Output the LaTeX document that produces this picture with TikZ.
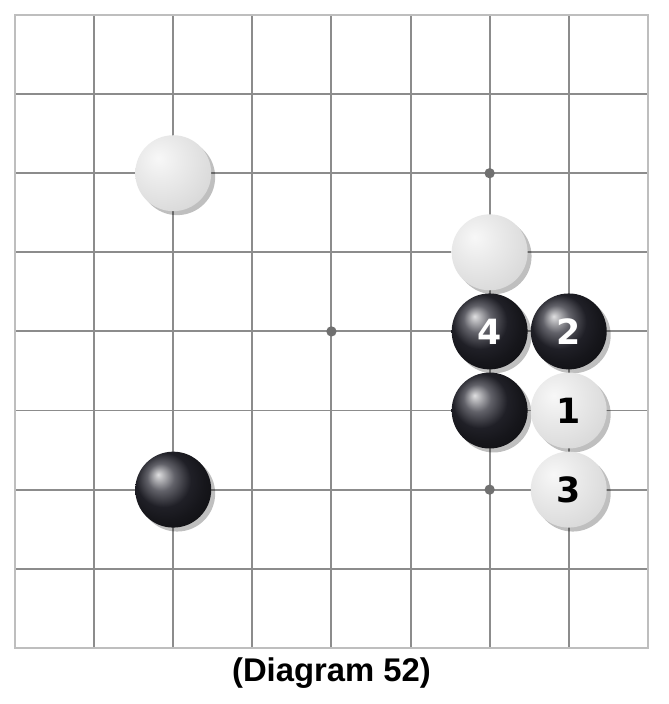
\documentclass[tikz,border=0pt]{standalone}
\usepackage{fontspec}
\setmainfont{Liberation Sans}
\newfontfamily\stonefont{DejaVu Sans}
\usetikzlibrary{shadows, positioning}

\definecolor{gridgray}{RGB}{140,140,140}
\definecolor{edgegray}{RGB}{190,190,190}
\definecolor{stoneblack}{RGB}{45,45,55}

\pgfdeclareradialshading{whiteball}{\pgfpoint{-10bp}{10bp}}{%
  color(0bp)=(white!97!black); color(14bp)=(white!92!black); color(38bp)=(white!84!black);
  color(58bp)=(white!72!black); color(100bp)=(white!72!black)}

\tikzset{
  stone/.style={circle, inner sep=0pt, minimum size=0.96cm,
    font=\stonefont\bfseries\fontsize{12.5}{13}\selectfont,
    drop shadow={shadow xshift=0.05cm, shadow yshift=-0.05cm, opacity=0.25, fill=black}},
  blackstone/.style={stone, shading=ball, ball color=stoneblack, text=white},
  whitestone/.style={stone, shading=whiteball, text=black},
  hoshi/.style={circle, fill=gridgray!80!black, inner sep=0pt, minimum size=0.13cm}
}

\begin{document}
\begin{tikzpicture}
  \useasboundingbox[fill=white] (-0.19,-0.71) rectangle (8.256,8.19);

  % Brett: Linien und Rand
  \foreach \i in {1,...,7} {
    \draw[gridgray, line width=0.7pt] (\i,0) -- (\i,8);
    \draw[gridgray, line width=0.7pt] (0,\i) -- (8,\i);
  }
  \draw[edgegray, line width=0.8pt] (0,0) rectangle (8,8);

  % Sternpunkte
  \node[hoshi] (h1) at (6,6) {};
  \node[hoshi] (h2) at (4,4) {};
  \node[hoshi] (h3) at (6,2) {};

  % Steine
  \node[whitestone] (w0) at (2,6) {};
  \node[blackstone] (b0) at (2,2) {};
  \node[whitestone] (w5) at (6,5) {};
  \node[blackstone] (b4) at (6,4) {4};
  \node[blackstone] (b2) at (7,4) {2};
  \node[blackstone] (b6) at (6,3) {};
  \node[whitestone] (w1) at (7,3) {1};
  \node[whitestone] (w3) at (7,2) {3};

  % Unterschrift
  \node[anchor=base, font=\bfseries\fontsize{11.8}{14}\selectfont] (caption) at (4,-0.42) {(Diagram 52)};
\end{tikzpicture}
\end{document}
